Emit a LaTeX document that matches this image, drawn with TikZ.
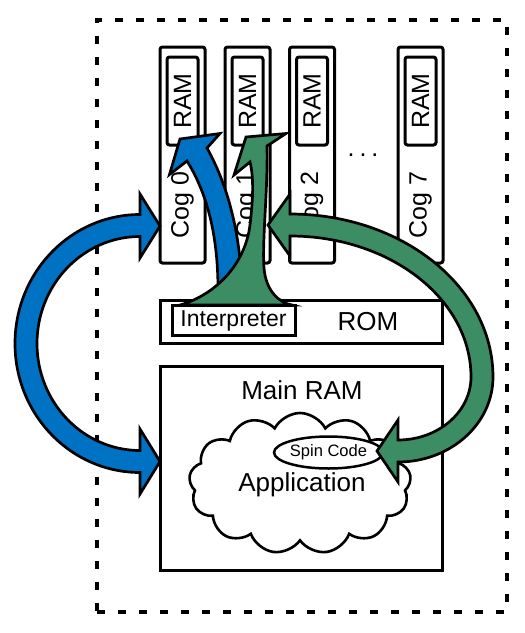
\documentclass[tikz,border=0pt]{standalone}
\usepackage{fontspec}
\setmainfont{Liberation Sans}
\usetikzlibrary{shapes.symbols,shapes.geometric}
\definecolor{arrblue}{RGB}{0,114,195}
\definecolor{arrgreen}{RGB}{60,140,100}
\begin{document}
\begin{tikzpicture}[x=1pt,y=1pt,
  cogbox/.style={draw=black, line width=3pt, fill=white, rounded corners=2.5pt, minimum width=45pt, minimum height=216pt, inner sep=0pt},
  rambox/.style={draw=black, line width=3pt, fill=white, rounded corners=2.5pt, minimum width=31pt, minimum height=88pt, inner sep=0pt},
  bigbox/.style={draw=black, line width=3pt, fill=white, minimum width=282pt, inner sep=0pt},
  vtxt/.style={rotate=90, inner sep=0pt, font=\fontsize{25}{28}\selectfont},
  bigtxt/.style={inner sep=0pt, font=\fontsize{26}{30}\selectfont},
  thickarrow/.style={draw=black, line width=2.7pt, line join=miter},
]
\useasboundingbox (0,0) rectangle (525,-633);
% dotted border
\node[draw=black, line width=4pt, dash pattern=on 8pt off 13pt, minimum width=410pt, minimum height=592pt, inner sep=0pt] (border) at (302,-316) {};
% cogs
\foreach \cx/\n in {182.5/0, 247.5/1, 312/2, 420.5/7} {
  \node[cogbox] (cog\n) at (\cx,-155) {};
  \node[rambox] (ram\n) at (\cx,-101) {};
  \node[vtxt] (ramt\n) at (\cx,-101) {RAM};
  \node[vtxt] (cogt\n) at (\cx,-205) {Cog \n};
}
\node[inner sep=0pt, font=\fontsize{25}{28}\selectfont] (dots) at (363,-155) {.\kern5pt.\kern5pt.};
% ROM
\node[bigbox, minimum height=43pt] (rom) at (301,-321.5) {};
\node[bigtxt] (romt) at (368,-322) {ROM};
% Main RAM
\node[bigbox, minimum height=204pt] (mainram) at (301,-468) {};
\node[bigtxt] (mainramt) at (302,-390) {Main RAM};
\node[cloud, draw=black, line width=2.6pt, fill=white, cloud puffs=13, cloud puff arc=125, cloud ignores aspect, minimum width=222pt, minimum height=141pt, inner sep=0pt] (cloud) at (300,-483.5) {};
\node[ellipse, draw=black, line width=2.5pt, fill=white, minimum width=96pt, minimum height=32pt, inner sep=0pt, font=\fontsize{16.5}{18}\selectfont] (spin) at (328.5,-452.5) {Spin Code};
\node[bigtxt] (app) at (302,-485) {Application};
% blue up arrow (behind green)
\draw[thickarrow, fill=arrblue] (180,-139) -- (220,-133.5) -- (207,-148)
  .. controls (222,-175) and (240,-220) .. (242,-290) -- (218,-290)
  .. controls (218,-230) and (205,-190) .. (187,-161) -- (169.5,-174.5) -- cycle;
% green flared arrow
\draw[thickarrow, fill=arrgreen] (246,-137) -- (286,-133.5) -- (267,-146)
  .. controls (268,-190) and (262,-240) .. (264,-268)
  .. controls (266,-292) and (280,-303) .. (292,-305) -- (180,-305)
  .. controls (215,-295) and (245,-265) .. (250,-225)
  .. controls (253,-200) and (254,-178) .. (250,-162) -- (234,-175) -- cycle;
% Interpreter
\node[draw=black, line width=3pt, fill=white, minimum width=123pt, minimum height=30pt, inner sep=0pt] (interp) at (233.5,-320) {};
\node[inner sep=0pt, font=\fontsize{23}{26}\selectfont] (interpt) at (233.5,-321) {Interpreter};
% blue double arrow
\draw[thickarrow, fill=arrblue] (160,-226) -- (140,-194) -- (140,-214.5)
  arc[start angle=90, end angle=270, x radius=125, y radius=129]
  -- (140,-494) -- (160,-461.5) -- (140,-429) -- (140,-450.5)
  arc[start angle=270, end angle=90, x radius=103, y radius=107]
  -- (140,-258) -- cycle;
% green double arrow
\draw[thickarrow, fill=arrgreen] (268,-225) -- (290,-194) -- (290,-214)
  arc[start angle=90, end angle=0, x radius=203, y radius=163]
  arc[start angle=0, end angle=-90, x radius=95, y radius=85]
  -- (398,-482) -- (377,-451) -- (398,-420) -- (398,-440)
  arc[start angle=-90, end angle=0, x radius=73, y radius=63]
  arc[start angle=0, end angle=90, x radius=181, y radius=141]
  -- (290,-256) -- cycle;
\end{tikzpicture}
\end{document}
